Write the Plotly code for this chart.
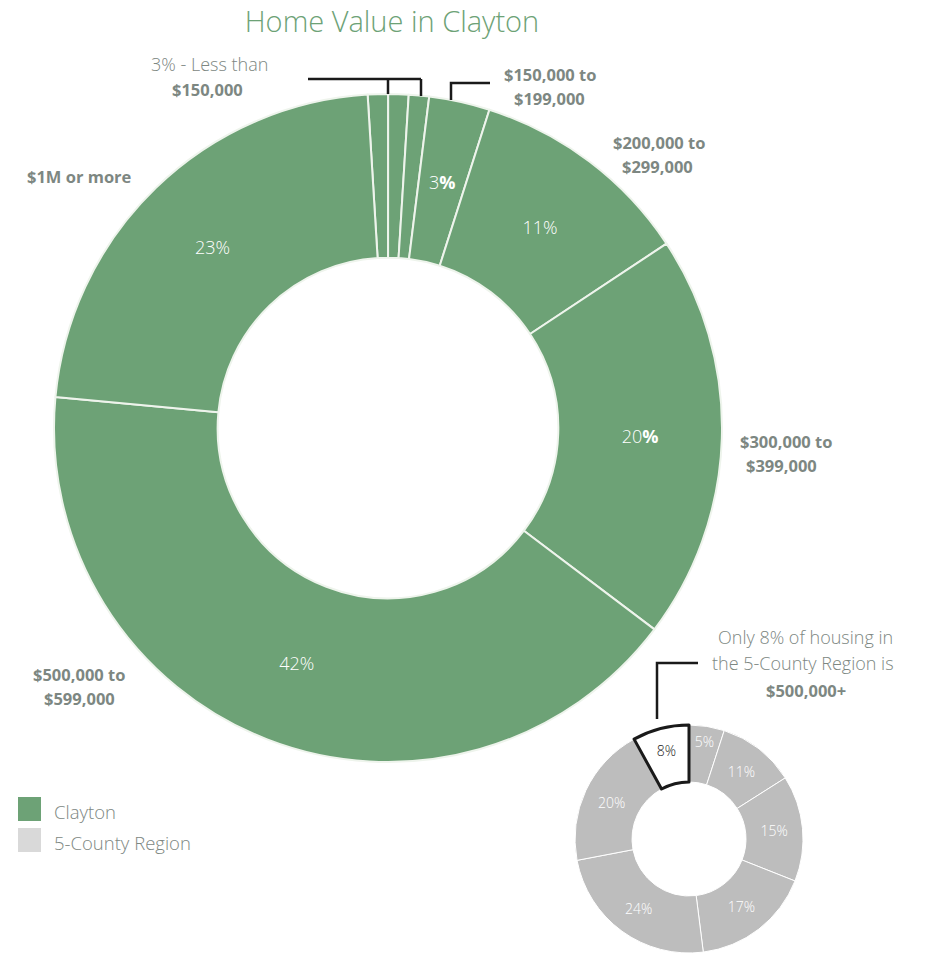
import math
import plotly.graph_objects as go

# Clayton home values (share of owner-occupied homes, %)
clayton_labels = [
    "Less than $50,000", "$50,000 to $99,000", "$100,000 to $149,000",
    "$150,000 to $199,000", "$200,000 to $299,000", "$300,000 to $399,000",
    "$500,000 to $599,000", "$1M or more",
]
clayton_values = [1, 1, 1, 3, 11, 20, 42, 23]
clayton_text = ["", "", "", "3<b>%</b>", "11%", "20<b>%</b>", "42%", "23%"]

# 5-County Region home values (%), clockwise from 12 o'clock
region_labels = ["Band 1", "Band 2", "Band 3", "Band 4", "Band 5", "Band 6", "$500,000+"]
region_values = [5, 11, 15, 17, 24, 20, 8]
region_text = [f"{v}%" for v in region_values]

GREEN = "#6da276"
GREY = "#bdbdbd"
LEGEND_GREY = "#d9d9d9"
LABEL = "#7d8782"
W, H = 928, 954

BIG_X = [54 / W, 722 / W]
BIG_Y = [192 / H, 860 / H]
BIG_HOLE = 0.51
BIG_ROT = -3.5


def px(x, y):
    return x / W, 1 - y / H


fig = go.Figure()

# the narrow 3% slice gets its label placed at the ring's mid-radius below
pie_text = [t if i != 3 else "" for i, t in enumerate(clayton_text)]
fig.add_trace(go.Pie(
    labels=clayton_labels, values=clayton_values, text=pie_text,
    textinfo="text", textposition="inside", insidetextorientation="horizontal",
    hole=BIG_HOLE, sort=False, direction="clockwise", rotation=BIG_ROT,
    marker=dict(colors=[GREEN] * len(clayton_values), line=dict(color="#eef4ec", width=2)),
    insidetextfont=dict(family="Open Sans", size=18, color="white", weight=300),
    domain=dict(x=BIG_X, y=BIG_Y),
    showlegend=False, hoverinfo="label+value",
))

region_fill = [GREY] * (len(region_values) - 1) + ["white"]
region_line_c = ["white"] * (len(region_values) - 1) + ["#1a1a1a"]
region_line_w = [1] * (len(region_values) - 1) + [3]
region_font_c = ["white"] * (len(region_values) - 1) + ["#222222"]
fig.add_trace(go.Pie(
    labels=region_labels, values=region_values, text=region_text,
    textinfo="text", textposition="inside", insidetextorientation="horizontal",
    hole=0.5, sort=False, direction="clockwise", rotation=0,
    marker=dict(colors=region_fill, line=dict(color=region_line_c, width=region_line_w)),
    insidetextfont=dict(family="Open Sans", size=14, color=region_font_c, weight=300),
    domain=dict(x=[575 / W, 803 / W], y=[1 / H, 229 / H]),
    showlegend=False, hoverinfo="label+value",
))

BOLD = dict(family="Open Sans", size=16.5, color=LABEL, weight="bold")
LIGHT = dict(family="Open Sans", size=18, color=LABEL, weight=300)

annotations = []

# label for the narrow 3% slice, at its mid-angle on the ring's mid-radius
total = sum(clayton_values)
k = 3
mid = BIG_ROT + 360 * (sum(clayton_values[:k]) + clayton_values[k] / 2) / total
cx_px = (BIG_X[0] + BIG_X[1]) / 2 * W
cy_px = (1 - (BIG_Y[0] + BIG_Y[1]) / 2) * H
r_out = (BIG_X[1] - BIG_X[0]) * W / 2
r_mid = r_out * (1 + BIG_HOLE) / 2
lx = cx_px + r_mid * math.sin(math.radians(mid))
ly = cy_px - r_mid * math.cos(math.radians(mid))
ax_, ay_ = px(lx, ly)
annotations.append(dict(x=ax_, y=ay_, xref="paper", yref="paper", text=clayton_text[k],
                        showarrow=False, xanchor="center", yanchor="middle",
                        font=dict(family="Open Sans", size=18, color="white", weight=300)))


def note(x, y, text, font, align="center"):
    ax, ay = px(x, y)
    annotations.append(dict(x=ax, y=ay, xref="paper", yref="paper", text=text,
                            showarrow=False, font=font, align=align,
                            xanchor="center", yanchor="middle"))


note(209, 64, "3% - Less than", LIGHT)
note(207, 89, "<b>$150,000</b>", BOLD)
note(550, 74, "<b>$150,000 to</b>", BOLD)
note(549, 99, "<b>$199,000</b>", BOLD)
note(659, 142, "<b>$200,000 to</b>", BOLD)
note(657, 166, "<b>$299,000</b>", BOLD)
note(79, 177, "<b>$1M or more</b>", BOLD)
note(786, 441, "<b>$300,000 to</b>", BOLD)
note(781, 466, "<b>$399,000</b>", BOLD)
note(79, 674, "<b>$500,000 to</b>", BOLD)
note(79, 698, "<b>$599,000</b>", BOLD)
note(805, 637, "Only 8% of housing in", LIGHT)
note(803, 663, "the 5-County Region is", LIGHT)
note(806, 690, "<b>$500,000+</b>", BOLD)

# legend
LEG = dict(family="Open Sans", size=18.5, color=LABEL, weight=300)
for y, txt in [(811, "Clayton"), (842, "5-County Region")]:
    ax, ay = px(52, y)
    annotations.append(dict(x=ax, y=ay, xref="paper", yref="paper", text=txt,
                            showarrow=False, font=LEG, xanchor="left", yanchor="middle"))

shapes = []
for (y0, y1), c in [((797, 821), GREEN), ((828, 852), LEGEND_GREY)]:
    x0p, y0p = px(18, y0)
    x1p, y1p = px(41, y1)
    shapes.append(dict(type="rect", xref="paper", yref="paper", x0=x0p, x1=x1p,
                       y0=y1p, y1=y0p, fillcolor=c, line=dict(width=0)))


def poly(points):
    path = ""
    for i, (x, y) in enumerate(points):
        ax, ay = px(x, y)
        path += ("M" if i == 0 else "L") + f"{ax},{ay} "
    shapes.append(dict(type="path", xref="paper", yref="paper", path=path.strip(),
                       line=dict(color="#1a1a1a", width=2.5)))


# bracket over the smallest bands
poly([(308, 79), (421, 79)])
poly([(388, 79), (388, 94)])
poly([(421, 79), (421, 96)])
# $150,000 to $199,000 pointer
poly([(490, 83), (451, 83), (451, 100)])
# 5-County callout
poly([(698, 663), (657, 663), (657, 719)])

fig.update_layout(
    width=W, height=H,
    margin=dict(l=0, r=0, t=0, b=0),
    paper_bgcolor="white", plot_bgcolor="white",
    title=dict(text="Home Value in Clayton", x=392 / W, y=1 - 22 / H,
               xanchor="center", yanchor="middle",
               font=dict(family="Open Sans", size=29, color=GREEN, weight=300)),
    annotations=annotations, shapes=shapes,
)

fig.write_html("out.html")
